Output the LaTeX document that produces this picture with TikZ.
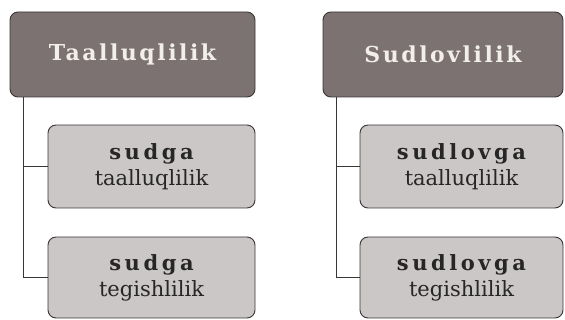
\documentclass[tikz,border=0pt]{standalone}
\usepackage{fontspec}
\setmainfont{DejaVu Serif}
\newfontfamily\spacedtop[LetterSpace=11.5]{DejaVu Serif}
\newfontfamily\spacedchild[LetterSpace=17]{DejaVu Serif}
\definecolor{topfill}{HTML}{7C7272}
\definecolor{childfill}{HTML}{CCC7C7}
\definecolor{edge}{HTML}{3A3535}
\definecolor{toptext}{HTML}{F2EEEA}
\newcommand{\bword}[1]{{\spacedchild\bfseries #1}}
\begin{document}
\begin{tikzpicture}[x=1pt,y=-1pt,
  topbox/.style={draw=edge,line width=0.9pt,fill=topfill,rounded corners=8pt,
    minimum height=85pt,inner sep=0pt,text=toptext,font=\fontsize{22}{26}\selectfont\spacedtop\bfseries},
  childbox/.style={draw=edge,line width=0.9pt,fill=childfill,rounded corners=8pt,
    inner sep=0pt,align=center,text=black!85,font=\fontsize{21}{26}\selectfont},
  link/.style={draw=edge,line width=0.8pt}]
\useasboundingbox (0,0) rectangle (565,320);
\node[topbox,minimum width=245pt] (t1) at (132.5,54.5) {Taalluqlilik};
\node[topbox,minimum width=240pt] (t2) at (443,54.5) {Sudlovlilik};
\node[childbox,minimum width=207pt,minimum height=83pt] (a1) at (151.5,166.5) {\bword{sudga}\\taalluqlilik};
\node[childbox,minimum width=207pt,minimum height=81pt] (a2) at (151.5,277.5) {\bword{sudga}\\tegishlilik};
\node[childbox,minimum width=203pt,minimum height=83pt] (b1) at (461.5,166.5) {\bword{sudlovga}\\taalluqlilik};
\node[childbox,minimum width=203pt,minimum height=81pt] (b2) at (461.5,277.5) {\bword{sudlovga}\\tegishlilik};
\coordinate (s1) at ([xshift=14pt]t1.south west);
\coordinate (s2) at ([xshift=14pt]t2.south west);
\draw[link] (s1) |- (a1.west);
\draw[link] (s1) |- (a2.west);
\draw[link] (s2) |- (b1.west);
\draw[link] (s2) |- (b2.west);
\end{tikzpicture}
\end{document}
